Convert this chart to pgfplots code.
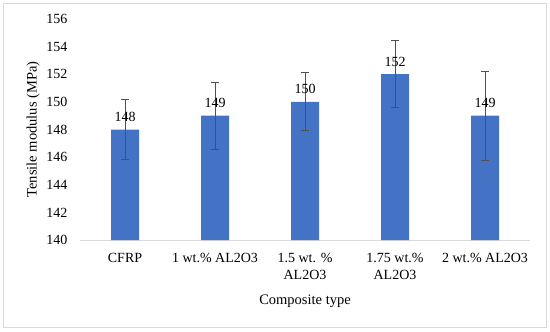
\documentclass[border=0pt]{standalone}
\usepackage{pgfplots}
\pgfplotsset{compat=1.18}
\usepackage{fontspec}
\setmainfont{Liberation Serif}
\definecolor{barblue}{HTML}{4472C4}
\definecolor{errgray}{HTML}{505050}
\definecolor{axgray}{HTML}{D9D9D9}
\begin{document}
\begin{tikzpicture}[x=1bp,y=1bp]
\useasboundingbox (0,0) rectangle (550,331);
\draw[axgray, line width=0.8bp] (3,4) rectangle (546,328);
\begin{axis}[
  at={(80bp,91bp)}, anchor=south west,
  scale only axis, width=450bp, height=221bp,
  xmin=-0.5, xmax=4.5, ymin=140, ymax=156,
  ytick={140,142,...,156},
  xtick={0,1,2,3,4},
  xticklabels={CFRP, 1 wt.\% AL2O3, {1.5 wt. \%\\AL2O3}, {1.75 wt.\%\\AL2O3}, 2 wt.\% AL2O3},
  separate axis lines,
  axis x line*=bottom, axis y line*=left,
  x axis line style={axgray, line width=0.8bp, -},
  y axis line style={draw=none},
  major tick length=0pt, tick style={draw=none},
  /pgf/number format/assume math mode=true,
  ticklabel style={font=\fontsize{14bp}{17bp}\selectfont, text=black},
  yticklabel style={xshift=-9bp},
  xticklabel style={align=center, yshift=-10bp},
  label style={font=\fontsize{14.5bp}{17bp}\selectfont},
  ylabel={Tensile modulus (MPa)},
  ylabel style={at={(axis description cs:-0.1044,0.5)}, anchor=center},
  xlabel={Composite type},
  xlabel style={at={(axis description cs:0.5,-0.276)}, anchor=center},
  ybar, bar width=28bp, bar shift=0pt,
  nodes near coords={\pgfmathprintnumber[fixed,precision=0]{\pgfplotspointmeta}},
  every node near coord/.append style={font=\fontsize{14bp}{17bp}\selectfont, text=black, anchor=base, yshift=8bp},
  clip=false,
]
\addplot[fill=barblue, draw=none,
  error bars/.cd, y dir=both, y explicit,
  error bar style={errgray, line width=1bp},
  error mark options={rotate=90, errgray, mark size=3.8bp, line width=1bp}]
  table[x=x, y=y, y error=e] {
x y e
0 148 2.14
1 149 2.42
2 150 2.10
3 152 2.42
4 149 3.22
};
\end{axis}
\end{tikzpicture}
\end{document}
